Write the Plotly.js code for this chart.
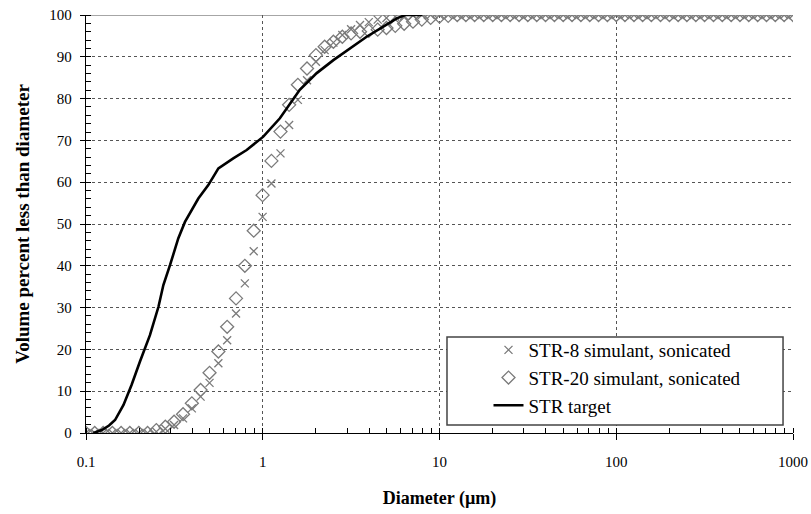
<!DOCTYPE html>
<html>
<head>
<meta charset="utf-8">
<script src="https://cdn.plot.ly/plotly-3.0.1.min.js"></script>
<style>
html,body{margin:0;padding:0;background:#fff;}
#chart{width:811px;height:514px;}
</style>
</head>
<body>
<div id="chart"></div>
<script>
// Particle size channels (µm)
const diameters = [0.1, 0.112, 0.125, 0.141, 0.158, 0.177, 0.199, 0.223, 0.25, 0.281,
  0.315, 0.354, 0.397, 0.445, 0.5, 0.561, 0.629, 0.706, 0.792, 0.889,
  0.998, 1.12, 1.26, 1.41, 1.58, 1.78, 2.0, 2.24, 2.51, 2.82,
  3.16, 3.55, 3.98, 4.47, 5.01, 5.62, 6.31, 7.08, 7.94, 8.91,
  10.0, 11.2, 12.6, 14.1, 15.8, 17.8, 20.0, 22.4, 25.1, 28.2,
  31.6, 35.5, 39.8, 44.7, 50.1, 56.2, 63.1, 70.8, 79.4, 89.1,
  100, 112, 126, 141, 158, 178, 200, 224, 251, 282,
  316, 355, 398, 447, 501, 562, 631, 708, 794, 891, 1000];

// STR-8 simulant, sonicated (cumulative volume %)
const str8 = [0, 0, 0, 0, 0, 0, 0, 0, 0.3, 1.0,
  1.9, 3.5, 5.9, 8.7, 12.0, 16.7, 22.2, 28.6, 35.8, 43.5,
  51.7, 59.7, 66.9, 73.7, 79.7, 84.4, 88.8, 91.6, 93.4, 95.2,
  96.6, 97.6, 98.3, 98.9, 99.3, 99.6, 99.8, 99.9, 100, 100,
  100, 100, 100, 100, 100, 100, 100, 100, 100, 100,
  100, 100, 100, 100, 100, 100, 100, 100, 100, 100,
  100, 100, 100, 100, 100, 100, 100, 100, 100, 100,
  100, 100, 100, 100, 100, 100, 100, 100, 100, 100, 100];

// STR-20 simulant, sonicated (cumulative volume %)
const str20 = [0, 0, 0, 0, 0, 0, 0, 0, 0.7, 1.5,
  2.7, 4.5, 7.1, 10.3, 14.4, 19.5, 25.4, 32.2, 40.0, 48.4,
  56.9, 65.1, 72.1, 78.5, 83.3, 87.2, 90.4, 92.4, 93.6, 94.8,
  95.6, 96.0, 96.2, 96.5, 96.9, 97.4, 97.9, 98.4, 98.9, 99.3,
  99.6, 99.8, 100, 100, 100, 100, 100, 100, 100, 100,
  100, 100, 100, 100, 100, 100, 100, 100, 100, 100,
  100, 100, 100, 100, 100, 100, 100, 100, 100, 100,
  100, 100, 100, 100, 100, 100, 100, 100, 100, 100, 100];

// STR target curve
const targetD = [0.11, 0.123, 0.135, 0.146, 0.163, 0.181, 0.202, 0.23, 0.257, 0.274,
  0.299, 0.333, 0.363, 0.40, 0.432, 0.492, 0.561, 0.681, 0.811, 1.007,
  1.25, 1.62, 2.02, 2.51, 3.12, 3.87, 4.81, 5.73, 6.4, 8.0];
const targetV = [0, 0.7, 1.8, 3.1, 6.7, 11.5, 17.1, 23.4, 30.2, 35.4,
  40.2, 46.6, 50.5, 53.8, 56.1, 59.3, 63.3, 65.7, 67.7, 70.9,
  75.3, 82.1, 86.1, 89.2, 92.0, 94.8, 97.2, 99.2, 100, 100];

const xTickVals = [0.1, 1, 10, 100, 1000];
const xTickText = ['0.1', '1', '10', '100', '1000'];

const serif = '"Liberation Serif", "Times New Roman", serif';

const traces = [
  {
    x: diameters, y: str8, type: 'scatter', mode: 'markers',
    name: 'STR-8 simulant, sonicated',
    marker: {symbol: 'x-thin-open', size: 8, color: '#7a7a7a', line: {color: '#7a7a7a', width: 1.3}}
  },
  {
    x: diameters, y: str20, type: 'scatter', mode: 'markers',
    name: 'STR-20 simulant, sonicated',
    marker: {symbol: 'diamond-open', size: 10, color: '#7a7a7a', line: {color: '#7a7a7a', width: 1.3}}
  },
  {
    x: targetD, y: targetV, type: 'scatter', mode: 'lines',
    name: 'STR target',
    line: {color: '#000', width: 2.6}
  }
];

const layout = {
  width: 811, height: 514,
  margin: {l: 86, r: 18, t: 15, b: 81},
  paper_bgcolor: '#fff', plot_bgcolor: '#fff',
  font: {family: serif, color: '#000', size: 15},
  showlegend: true,
  legend: {
    x: 0.5693, y: 0.244, xanchor: 'left', yanchor: 'top',
    bgcolor: 'rgba(0,0,0,0)', borderwidth: 0,
    font: {family: serif, size: 19, color: '#000'},
    itemwidth: 30, tracegroupgap: 0
  },
  xaxis: {
    type: 'log', range: [-1, 3],
    tickmode: 'array', tickvals: xTickVals, ticktext: xTickText,
    ticks: 'outside', ticklen: 6, tickcolor: '#000', tickwidth: 1,
    showline: true, linecolor: '#000', linewidth: 1.3,
    showgrid: true, gridcolor: '#555', griddash: 'dot', gridwidth: 1,
    zeroline: false,
    tickfont: {family: serif, size: 15, color: '#000'},
    ticklabelstandoff: 9,
    minor: {tickmode: 'linear', dtick: 'D1', ticks: 'inside', ticklen: 5, tickcolor: '#000', tickwidth: 1, showgrid: false},
    title: {text: '<b>Diameter (µm)</b>', font: {family: serif, size: 18, color: '#000'}, standoff: 22},
    automargin: false
  },
  yaxis: {
    range: [0, 100], tickmode: 'linear', tick0: 0, dtick: 10,
    ticks: 'outside', ticklen: 5, tickcolor: '#000', tickwidth: 1,
    showline: true, linecolor: '#000', linewidth: 1.3,
    showgrid: true, gridcolor: '#555', griddash: 'dot', gridwidth: 1,
    zeroline: false,
    tickfont: {family: serif, size: 15, color: '#000'},
    ticklabelstandoff: 5,
    minor: {tickmode: 'linear', dtick: 2, ticks: 'inside', ticklen: 5, tickcolor: '#000', tickwidth: 1, showgrid: false},
    title: {text: '<b>Volume percent less than diameter</b>', font: {family: serif, size: 19, color: '#000'}, standoff: 14},
    automargin: false
  },
  shapes: [
    {type: 'line', xref: 'paper', yref: 'y', x0: 0, x1: 1, y0: 100, y1: 100,
     line: {color: '#888', width: 1.5}, layer: 'below'},
    {type: 'rect', xref: 'paper', yref: 'paper', x0: 0.5106, x1: 0.9859, y0: 0.0191, y1: 0.2297,
     fillcolor: '#fff', line: {color: '#444', width: 1.5}, layer: 'above'}
  ]
};

Plotly.newPlot('chart', traces, layout, {staticPlot: true, displayModeBar: false});
</script>
</body>
</html>
